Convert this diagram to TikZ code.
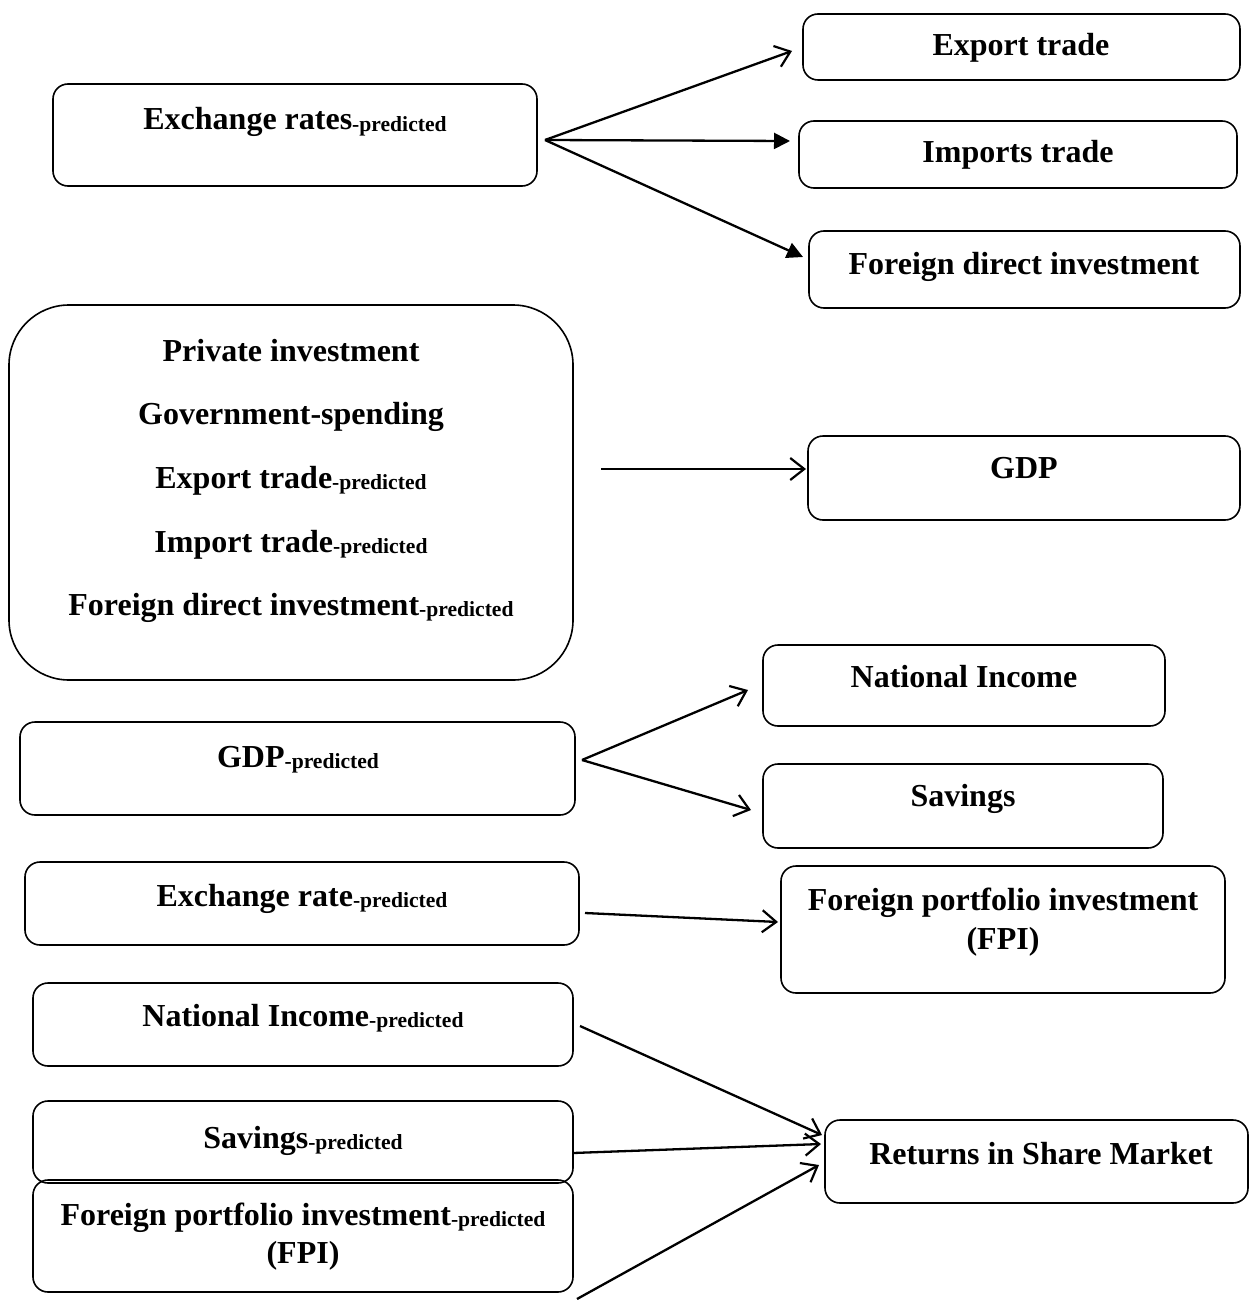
\documentclass[tikz,border=0pt]{standalone}
\usepackage{fontspec}
\setmainfont{Liberation Serif}
\usetikzlibrary{fit,arrows.meta}
\newcommand{\predsub}{{\fontsize{10.8}{12}\selectfont\raisebox{-0.8pt}{-predicted}}}
\tikzset{
  box/.style={draw, line width=0.8pt, rounded corners=7.5pt, inner sep=0pt},
  bigbox/.style={draw, line width=0.8pt, rounded corners=30pt, inner sep=0pt},
  txt/.style={font=\bfseries\fontsize{16}{19.5}\selectfont, inner sep=0pt, anchor=base},
  openarr/.style={line width=1.15pt, -{Straight Barb[length=7pt,width=11pt,line width=1.1pt]}},
  fillarr/.style={line width=1.15pt, -{Triangle[length=8pt,width=8pt]}}
}
\begin{document}
\begin{tikzpicture}[x=0.5pt,y=-0.5pt]
\useasboundingbox (0,0) rectangle (1249,1300);
% boxes
\node (er) [box, fit={(53,84)(537,186)}] {};
\node (ext) [box, fit={(803,14)(1240,80)}] {};
\node (imt) [box, fit={(799,121)(1237,188)}] {};
\node (fdi) [box, fit={(809,231)(1240,308)}] {};
\node (big) [bigbox, fit={(9,305)(573,680)}] {};
\node (gdp) [box, fit={(808,436)(1240,520)}] {};
\node (ni) [box, fit={(763,645)(1165,726)}] {};
\node (sav) [box, fit={(763,764)(1163,848)}] {};
\node (gdpp) [box, fit={(20,722)(575,815)}] {};
\node (erp) [box, fit={(25,862)(579,945)}] {};
\node (fpi) [box, fit={(781,866)(1225,993)}] {};
\node (nip) [box, fit={(33,983)(573,1066)}] {};
\node (savp) [box, fit={(33,1101)(573,1183)}] {};
\node (fpip) [box, fit={(33,1180)(573,1292)}] {};
\node (rsm) [box, fit={(825,1120)(1248,1203)}] {};
% texts (positioned by baseline)
\node (t1) [txt] at (295,130) {Exchange rates\predsub};
\node (t2) [txt] at (1021,56) {Export trade};
\node (t3) [txt] at (1018,163) {Imports trade};
\node (t4) [txt] at (1024,274) {Foreign direct investment};
\node (t5) [txt] at (291,361) {Private investment};
\node (t6) [txt] at (291,424) {Government-spending};
\node (t7) [txt] at (291,488) {Export trade\predsub};
\node (t8) [txt] at (291,552) {Import trade\predsub};
\node (t9) [txt] at (291,615) {Foreign direct investment\predsub};
\node (t10) [txt] at (1024,478) {GDP};
\node (t11) [txt] at (964,687) {National Income};
\node (t12) [txt] at (963,806) {Savings};
\node (t13) [txt] at (298,767) {GDP\predsub};
\node (t14) [txt] at (302,906) {Exchange rate\predsub};
\node (t15) [txt] at (1003,910) {Foreign portfolio investment};
\node (t15b) [txt] at (1003,949) {(FPI)};
\node (t16) [txt] at (303,1026) {National Income\predsub};
\node (t17) [txt] at (303,1148) {Savings\predsub};
\node (t18) [txt] at (303,1225) {Foreign portfolio investment\predsub};
\node (t18b) [txt] at (303,1263) {(FPI)};
\node (t19) [txt] at (1041,1164) {Returns in Share Market};
% connector end points
\coordinate (s1) at (545,140);
\coordinate (e1) at (792,51);
\coordinate (e2) at (790,141);
\coordinate (e3) at (803,257);
\coordinate (s4) at (601,469);
\coordinate (e4) at (806,469);
\coordinate (s5) at (582,760);
\coordinate (e5) at (748,690);
\coordinate (e6) at (751,810);
\coordinate (s7) at (585,913);
\coordinate (e7) at (778,922);
\coordinate (s8) at (580,1026);
\coordinate (e8) at (822,1135);
\coordinate (s9) at (573,1153);
\coordinate (e9) at (821,1144);
\coordinate (s10) at (577,1299);
\coordinate (e10) at (819,1165);
% connectors
\draw[openarr] (s1) -- (e1);
\draw[fillarr] (s1) -- (e2);
\draw[fillarr] (s1) -- (e3);
\draw[openarr] (s4) -- (e4);
\draw[openarr] (s5) -- (e5);
\draw[openarr] (s5) -- (e6);
\draw[openarr] (s7) -- (e7);
\draw[openarr] (s8) -- (e8);
\draw[openarr] (s9) -- (e9);
\draw[openarr] (s10) -- (e10);
\end{tikzpicture}
\end{document}
